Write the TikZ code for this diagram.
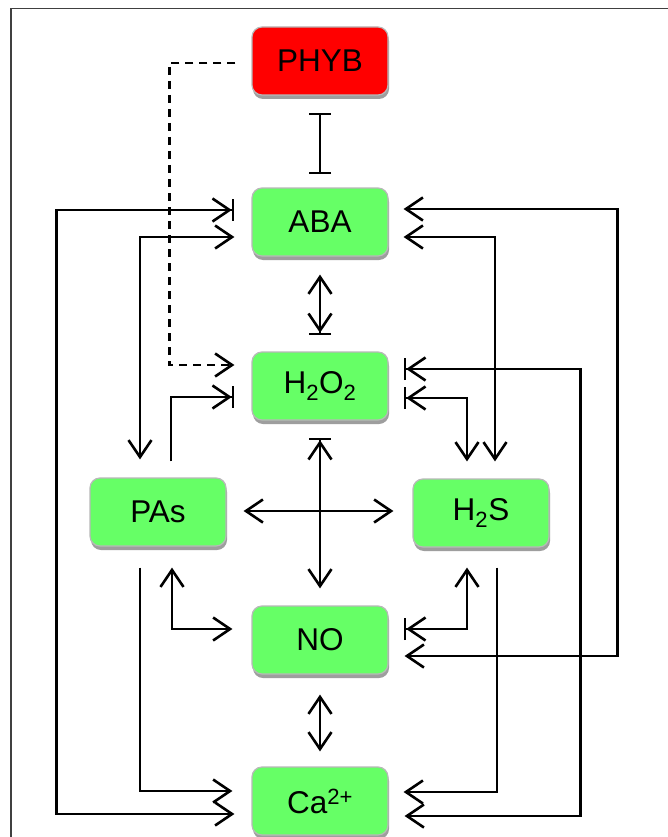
\documentclass[tikz,border=0pt]{standalone}
\usepackage{fontspec}
\setmainfont{Liberation Sans}
\usetikzlibrary{arrows.meta,calc,shadows}
\definecolor{boxgreen}{HTML}{66FF66}
\definecolor{boxred}{HTML}{FF0000}
\tikzset{
  box/.style={rounded corners=10pt, minimum width=136pt, minimum height=68pt,
    inner sep=0pt, draw=black!28, line width=1.2pt,
    font=\fontsize{31.5}{36}\selectfont,
    drop shadow={shadow xshift=1pt, shadow yshift=-4pt, fill=black!38, opacity=1}},
  conn/.style={line width=2.6pt, black},
  barb/.tip={Straight Barb[length=17pt, width=23pt, sep=0pt]},
  tbar/.tip={Bar[width=22pt, sep=0pt]},
  barbtbar/.tip={Straight Barb[length=17pt, width=23pt, sep=0pt]Bar[width=22pt, sep=0pt]},
}
\begin{document}
\begin{tikzpicture}[x=1pt,y=-1pt]
\useasboundingbox (0,0) rectangle (668,837);
\fill[white] (0,0) rectangle (668,837);
\draw[line width=1.5pt, black!75] (11,837) -- (11,8.5) -- (668,8.5);

\node[box, fill=boxred] (phyb) at (320,61) {PHYB};
\node[box, fill=boxgreen] (aba) at (320,222) {ABA};
\node[box, fill=boxgreen] (h2o2) at (320,386) {H\textsubscript{2}O\textsubscript{2}};
\node[box, fill=boxgreen] (pas) at (158,512) {PAs};
\node[box, fill=boxgreen] (h2s) at (481,513) {H\textsubscript{2}S};
\node[box, fill=boxgreen] (no) at (320,640) {NO};
\node[box, fill=boxgreen] (ca) at (320,801) {Ca\textsuperscript{2+}};

% PHYB -| ABA
\draw[conn, {tbar}-{tbar}] ($(phyb.south)+(0,17)$) -- ($(aba.north)+(0,-13)$);
% PHYB dashed to H2O2
\draw[conn, dash pattern=on 8pt off 6pt, -{barb}] ($(phyb.west)+(-16,2)$) -| ($(h2o2.west)+(-82,-21)$) -- ($(h2o2.west)+(-17,-21)$);
% Ca -- ABA outer left
\draw[conn, {barb}-{barbtbar}] ($(ca.west)+(-17,13)$) -| ($(aba.west)+(-195,-12)$) -- ($(aba.west)+(-17,-12)$);
% ABA <-> PAs
\draw[conn, {barb}-{barb}] ($(aba.west)+(-17,15)$) -| ($(pas.north)+(-18,-18)$);
% ABA <-> H2O2
\draw[conn, {barb}-{barbtbar}] ($(aba.south)+(0,18)$) -- ($(h2o2.north)+(0,-16)$);
% PAs -> H2O2
\draw[conn, -{barbtbar}] ($(pas.north)+(13,-16)$) |- ($(h2o2.west)+(-17,11)$);
% H2O2 <-> NO
\draw[conn, {barbtbar}-{barb}] ($(h2o2.south)+(0,17)$) -- ($(no.north)+(0,-17)$);
% PAs <-> H2S
\draw[conn, {barb}-{barb}] ($(pas.east)+(17,-1)$) -- ($(pas.east -| h2s.west)+(-19,-1)$);
% PAs <-> NO
\draw[conn, {barb}-{barb}] ($(pas.south)+(14,21)$) |- ($(no.west)+(-19,-11)$);
% PAs -> Ca
\draw[conn, -{barb}] ($(pas.south)+(-18,21)$) |- ($(ca.west)+(-19,-10)$);
% ABA <-> NO outer right
\draw[conn, {barb}-{barb}] ($(aba.east)+(15,-13)$) -| ($(no.east)+(229,16)$) -- ($(no.east)+(16,16)$);
% ABA <-> H2S
\draw[conn, {barb}-{barb}] ($(aba.east)+(15,15)$) -| ($(h2s.north)+(14,-17)$);
% H2O2 <-> Ca
\draw[conn, {barbtbar}-{barb}] ($(h2o2.east)+(15,-17)$) -| ($(ca.east)+(192,15)$) -- ($(ca.east)+(16,15)$);
% H2O2 <-> H2S
\draw[conn, {barbtbar}-{barb}] ($(h2o2.east)+(15,12)$) -| ($(h2s.north)+(-14,-17)$);
% H2S <-> NO
\draw[conn, {barb}-{barbtbar}] ($(h2s.south)+(-14,20)$) |- ($(no.east)+(15,-11)$);
% H2S -> Ca
\draw[conn, -{barb}] ($(h2s.south)+(16,20)$) |- ($(ca.east)+(15,-9)$);
% NO <-> Ca
\draw[conn, {barb}-{barb}] ($(no.south)+(0,20)$) -- ($(ca.north)+(0,-15)$);
\end{tikzpicture}
\end{document}
